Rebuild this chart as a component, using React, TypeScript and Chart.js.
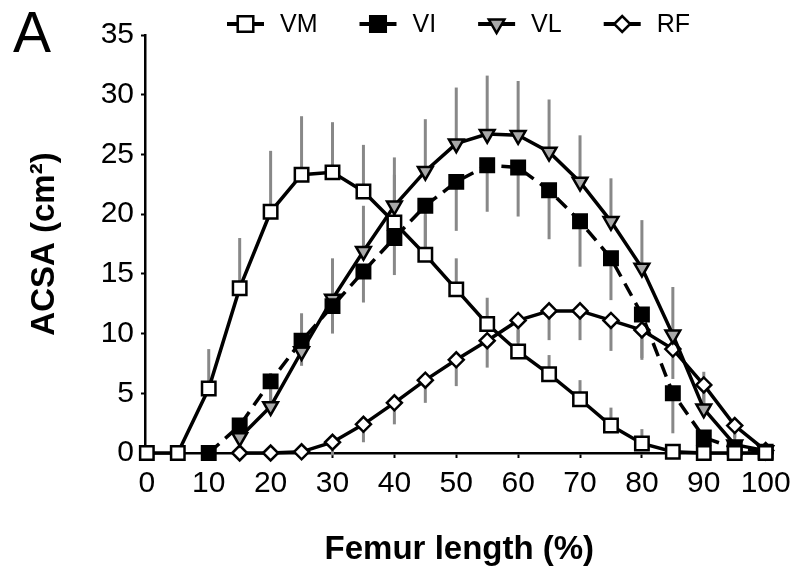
import React, { useEffect, useRef } from 'react';
import { Chart, registerables } from 'chart.js';
import { drawPoint } from 'chart.js/helpers';

Chart.register(...registerables);

const FONT = '"Liberation Sans", Arial, Helvetica, sans-serif';

// Femur length (%) positions
const femurPct = [0, 5, 10, 15, 20, 25, 30, 35, 40, 45, 50, 55, 60, 65, 70, 75, 80, 85, 90, 95, 100];
const xTicks = [0, 10, 20, 30, 40, 50, 60, 70, 80, 90, 100];

// Mean ACSA (cm²)
const vm = [0, 0, 5.4, 13.8, 20.2, 23.3, 23.5, 21.9, 19.3, 16.6, 13.7, 10.8, 8.5, 6.6, 4.5, 2.3, 0.8, 0.1, 0, 0, 0];
const vi = [null, null, 0, 2.3, 6.0, 9.4, 12.3, 15.2, 18.0, 20.7, 22.7, 24.1, 23.9, 22.0, 19.4, 16.3, 11.6, 5.0, 1.3, 0.4, 0.1];
const vl = [null, null, null, 1.3, 3.9, 8.5, 12.9, 16.9, 20.7, 23.6, 25.9, 26.7, 26.6, 25.2, 22.7, 19.4, 15.5, 9.9, 3.7, 0.7, 0.2];
const rf = [null, null, null, 0, 0, 0.1, 0.9, 2.4, 4.2, 6.1, 7.8, 9.4, 11.1, 11.9, 11.9, 11.1, 10.3, 8.7, 5.7, 2.3, 0.2];

// Standard deviations (one-sided bars as drawn)
const vmSd = [0, 0, 3.3, 4.2, 5.1, 4.9, 4.2, 3.9, 4.0, 3.3, 2.6, 2.2, 1.8, 1.6, 1.6, 1.5, 1.2, 0.4, 0, 0, 0];
const viSd = [0, 0, 0, 1.2, 2.5, 2.1, 2.3, 2.6, 3.1, 3.6, 4.1, 3.9, 4.1, 4.1, 3.8, 3.5, 3.65, 3.35, 1.0, 0.4, 0];
const vlSd = [0, 0, 0, 1.2, 2.8, 3.2, 3.4, 3.8, 4.05, 4.35, 4.7, 4.9, 4.55, 4.4, 3.9, 3.6, 4.0, 4.0, 3.1, 1.0, 0];
const rfSd = [0, 0, 0, 0, 0, 0, 1.1, 1.5, 1.8, 1.9, 2.2, 2.25, 1.8, 2.45, 2.45, 2.55, 2.5, 2.5, 2.4, 1.0, 0];

const seriesNames = ['VM', 'VI', 'VL', 'RF'];

export default function App() {
  const ref = useRef<HTMLCanvasElement>(null);

  useEffect(() => {
    const series = [
      { label: seriesNames[0], values: vm, sd: vmSd, dir: 1, pointStyle: 'rect', radius: 9.5, legendRadius: 11, rotation: 0, fill: '#ffffff', dash: [] as number[] },
      { label: seriesNames[1], values: vi, sd: viSd, dir: -1, pointStyle: 'rect', radius: 9.5, legendRadius: 11, rotation: 0, fill: '#000000', dash: [14, 8] },
      { label: seriesNames[2], values: vl, sd: vlSd, dir: 1, pointStyle: 'triangle', radius: 8.5, legendRadius: 9, rotation: 180, fill: '#a8a8a8', dash: [] as number[] },
      { label: seriesNames[3], values: rf, sd: rfSd, dir: -1, pointStyle: 'rectRot', radius: 7.5, legendRadius: 8, rotation: 0, fill: '#ffffff', dash: [] as number[] },
    ];

    const toPts = (vals: (number | null)[]) =>
      femurPct.map((x, i) => ({ x, y: vals[i] })).filter((p) => p.y !== null) as { x: number; y: number }[];

    const errorBarPlugin = {
      id: 'errorBars',
      beforeDatasetsDraw(chart: any) {
        const { ctx } = chart;
        const xs = chart.scales.x;
        const ys = chart.scales.y;
        ctx.save();
        ctx.strokeStyle = '#888888';
        ctx.lineWidth = 3;
        ctx.lineCap = 'butt';
        series.forEach((s) => {
          s.values.forEach((v, i) => {
            const sd = s.sd[i];
            if (v === null || !sd) return;
            const px = xs.getPixelForValue(femurPct[i]);
            ctx.beginPath();
            ctx.moveTo(px, ys.getPixelForValue(v));
            ctx.lineTo(px, ys.getPixelForValue(v + s.dir * sd));
            ctx.stroke();
          });
        });
        ctx.restore();
      },
    };

    const legendPlugin = {
      id: 'customLegend',
      afterDraw(chart: any) {
        const { ctx } = chart;
        ctx.save();
        // panel letter
        ctx.fillStyle = '#000';
        ctx.font = `57px ${FONT}`;
        ctx.textAlign = 'left';
        ctx.textBaseline = 'alphabetic';
        ctx.fillText('A', 13, 52);

        ctx.font = `25px ${FONT}`;
        ctx.textBaseline = 'middle';
        const y = 24;
        let x0 = 227;
        const lineLen = 37;
        const textGap = 16;
        const itemGap = 42;
        series.forEach((s) => {
          ctx.strokeStyle = '#000';
          ctx.lineWidth = 4;
          ctx.setLineDash([]);
          ctx.beginPath();
          ctx.moveTo(x0, y);
          ctx.lineTo(x0 + lineLen, y);
          ctx.stroke();
          ctx.fillStyle = s.fill;
          ctx.strokeStyle = '#000';
          ctx.lineWidth = 2.5;
          drawPoint(ctx, { pointStyle: s.pointStyle, rotation: s.rotation, radius: s.legendRadius, borderWidth: 2.5 } as any, x0 + lineLen / 2, y);
          ctx.fillStyle = '#000';
          const tx = x0 + lineLen + textGap;
          ctx.fillText(s.label, tx, y + 1);
          x0 = tx + ctx.measureText(s.label).width + itemGap;
        });
        ctx.restore();
      },
    };

    const chart = new Chart(ref.current as HTMLCanvasElement, {
      type: 'line',
      data: {
        datasets: series.map((s) => ({
          label: s.label,
          data: toPts(s.values),
          borderColor: '#000',
          borderWidth: 3.5,
          borderDash: s.dash,
          backgroundColor: s.fill,
          pointStyle: s.pointStyle as any,
          pointRotation: s.rotation,
          pointRadius: s.radius,
          pointHoverRadius: s.radius,
          pointBackgroundColor: s.fill,
          pointBorderColor: '#000',
          pointBorderWidth: 2.5,
          tension: 0,
          clip: false as any,
          fill: false,
        })),
      },
      options: {
        animation: false,
        responsive: false,
        layout: { padding: { top: 35, right: 24, bottom: 0, left: 0 } },
        plugins: {
          legend: { display: false },
          tooltip: { enabled: false },
        },
        scales: {
          x: {
            type: 'linear',
            min: -0.3,
            max: 101.3,
            afterBuildTicks: (scale: any) => {
              scale.ticks = xTicks.map((v) => ({ value: v }));
            },
            afterFit: (scale: any) => {
              scale.height = 121;
            },
            grid: { display: true, drawOnChartArea: false, drawTicks: true, tickLength: 5, tickWidth: 2, tickColor: '#000' },
            border: { display: true, color: '#000', width: 2.5 },
            ticks: { color: '#000', font: { family: FONT, size: 30 }, padding: 8, maxRotation: 0, autoSkip: false },
            title: {
              display: true,
              text: 'Femur length (%)',
              color: '#000',
              font: { family: FONT, size: 33, weight: 'bold' },
              padding: { top: 0, bottom: 4 },
            },
          },
          y: {
            type: 'linear',
            min: 0,
            max: 35,
            ticks: { stepSize: 5, color: '#000', font: { family: FONT, size: 30 }, padding: 7 },
            afterFit: (scale: any) => {
              scale.width = 145;
            },
            grid: { display: true, drawOnChartArea: false, drawTicks: true, tickLength: 4, tickWidth: 2, tickColor: '#000' },
            border: { display: true, color: '#000', width: 2.5 },
            title: {
              display: true,
              text: 'ACSA (cm²)',
              color: '#000',
              font: { family: FONT, size: 33, weight: 'bold' },
              padding: { top: 25, bottom: 0 },
            },
          },
        },
      },
      plugins: [errorBarPlugin, legendPlugin],
    } as any);

    return () => chart.destroy();
  }, []);

  return (
    <div style={{ position: 'absolute', left: 0, top: 0, width: 799, height: 574, background: '#fff' }}>
      <canvas ref={ref} width={799} height={574} style={{ display: 'block', width: 799, height: 574 }} />
    </div>
  );
}
